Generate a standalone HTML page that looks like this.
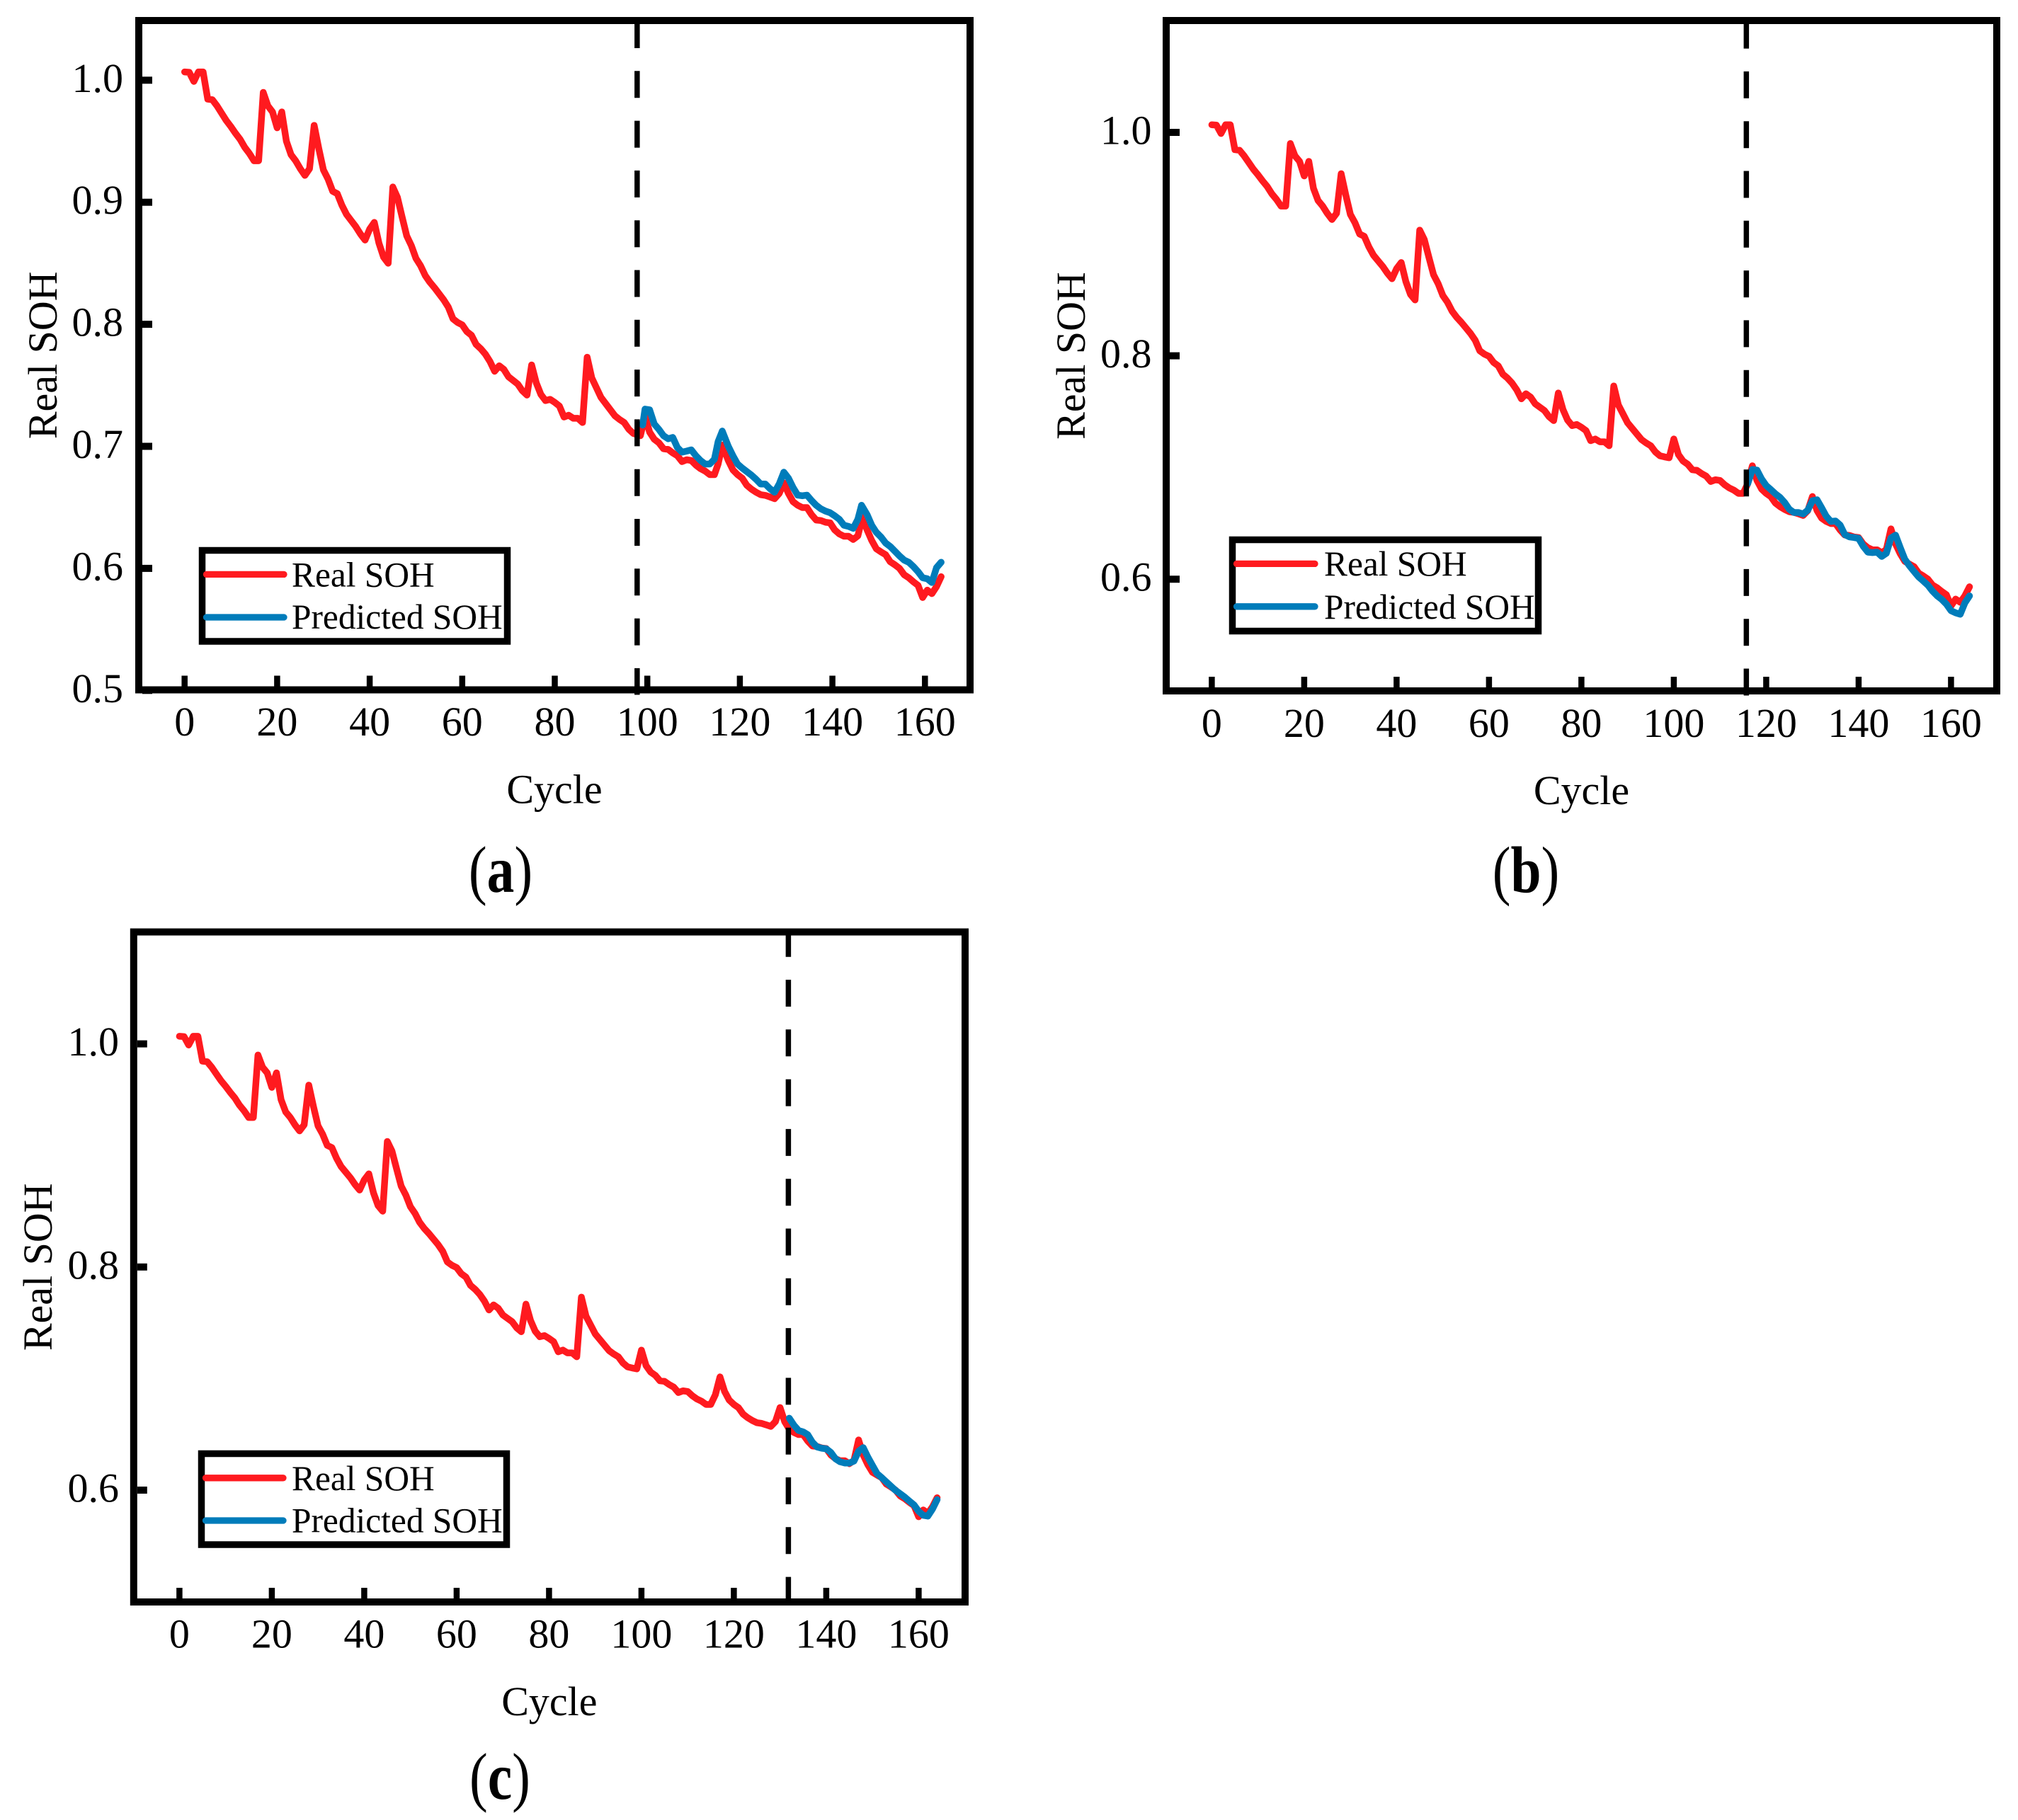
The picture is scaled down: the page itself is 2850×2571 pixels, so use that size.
<!DOCTYPE html>
<html lang="en">
<head>
<meta charset="utf-8">
<title>Real and predicted SOH versus cycle</title>
<style>
html,body{margin:0;padding:0;background:#fff;}
svg{display:block;}
text{font-family:"Liberation Serif",serif;fill:#000;}
</style>
</head>
<body>
<svg id="figure" xmlns="http://www.w3.org/2000/svg" width="2850" height="2571" viewBox="0 0 2850 2571"></svg>
<script>
const xTickValues = [0,20,40,60,80,100,120,140,160];
const yTicksA = [0.5,0.6,0.7,0.8,0.9,1.0];
const yTicksB = [0.6,0.8,1.0];
const yTicksC = [0.6,0.8,1.0];
const splitCycleA = 97.8;
const splitCycleB = 115.7;
const splitCycleC = 131.8;

const realCyclesA = [0,1,2,3,4,5,6,7,8,9,10,11,12,13,14,15,16,17,18,19,20,21,22,23,24,25,26,27,28,29,30,31,32,33,34,35,36,37,38,39,40,41,42,43,44,45,46,47,48,49,50,51,52,53,54,55,56,57,58,59,60,61,62,63,64,65,66,67,68,69,70,71,72,73,74,75,76,77,78,79,80,81,82,83,84,85,86,87,88,89,90,91,92,93,94,95,96,97,98.5,99.5,100.5,101.5,102.5,103.5,104.5,105.5,106.5,107.5,108.5,109.5,110.5,111.5,112.5,113.5,114.5,115.3,116.2,117.5,118.5,119.5,120.5,121.5,122.5,123.5,124.5,125.5,126.5,127.5,128.5,129.5,130.5,131.5,132.5,133.5,134.5,135.5,136.5,137.5,138.5,139.5,140.5,141.5,142.5,143.5,144.5,145.5,146.5,147.5,148.5,149.5,150.5,151.5,152.5,153.5,154.5,155.5,156.5,157.5,158.5,159.5,160.5,161.5,162.5,163.5];
const realA = [1.0068,1.0065,.999,1.0068,1.0068,.9845,.984,.979,.973,.967,.962,.9565,.9515,.945,.94,.934,.934,.99,.979,.974,.961,.974,.95,.939,.934,.9275,.922,.9275,.963,.944,.9265,.919,.909,.907,.8975,.89,.885,.88,.874,.869,.878,.8835,.8665,.855,.85,.9125,.904,.888,.8725,.8645,.854,.848,.84,.8345,.83,.825,.82,.814,.8045,.8015,.7995,.794,.791,.7835,.78,.7755,.7695,.7615,.766,.763,.757,.754,.751,.7455,.742,.7667,.752,.7425,.7375,.7385,.736,.733,.724,.7255,.723,.723,.7195,.773,.756,.748,.74,.735,.73,.725,.722,.7195,.714,.7105,.7087,.7245,.7116,.7058,.7029,.698,.6975,.6946,.6923,.6875,.689,.6884,.6846,.6817,.6797,.6768,.6768,.6855,.701,.6884,.6807,.6768,.6739,.6681,.6649,.6624,.6604,.6598,.6585,.6571,.6614,.6701,.6614,.6546,.6517,.6498,.6498,.644,.6396,.6392,.6378,.6373,.6315,.6282,.6263,.6263,.6237,.6266,.6421,.6315,.6228,.616,.6135,.6112,.6054,.6029,.6,.5948,.5923,.589,.5861,.5761,.5822,.5793,.5851,.5932];
const predCyclesA = [99,99.5,100.5,101.5,102.5,103.5,104.5,105.5,106.5,107.5,108.5,109.5,110.5,111.5,112.5,113.5,114.5,115.3,116.2,117.5,118.5,119.5,120.5,121.5,122.5,123.5,124.5,125.5,126.5,127.5,128.5,129.5,130.5,131.5,132.5,133.5,134.5,135.5,136.5,137.5,138.5,139.5,140.5,141.5,142.5,143.5,144.5,145.5,146.3,147.5,148.5,149.5,150.5,151.5,152.5,153.5,154.5,155.5,156.5,157.5,158.5,159.5,160.5,161.5,162.5,163.5];
const predA = [.7174,.7305,.7299,.7183,.7139,.7087,.7062,.7073,.699,.6952,.6961,.6971,.6923,.6884,.6855,.6855,.6894,.7039,.7125,.7,.6923,.6855,.6822,.6793,.6764,.673,.6691,.6691,.6653,.6624,.6691,.6788,.6739,.6662,.66,.6595,.66,.6556,.6517,.6488,.6469,.6456,.6431,.6402,.6353,.6344,.6328,.6402,.6517,.644,.6353,.6295,.6257,.6208,.6179,.6141,.6102,.6068,.605,.6015,.5973,.5923,.5915,.5884,.6006,.605];

const realB = [1.0068,1.0065,.999,1.0068,1.0068,.9845,.984,.979,.973,.967,.962,.9565,.9515,.945,.94,.934,.934,.99,.979,.974,.961,.974,.95,.939,.934,.9275,.922,.9275,.963,.944,.9265,.919,.909,.907,.8975,.89,.885,.88,.874,.869,.878,.8835,.8665,.855,.85,.9125,.904,.888,.8725,.8645,.854,.848,.84,.8345,.83,.825,.82,.814,.8045,.8015,.7995,.794,.791,.7835,.78,.7755,.7695,.7615,.766,.763,.757,.754,.751,.7455,.742,.7667,.752,.7425,.7375,.7385,.736,.733,.724,.7255,.723,.723,.7195,.773,.756,.748,.74,.735,.73,.725,.722,.7195,.714,.7105,.7095,.7087,.7255,.7116,.7058,.7029,.698,.6975,.6946,.6923,.6875,.689,.6884,.6846,.6817,.6797,.6768,.6768,.6855,.7015,.6884,.6807,.6768,.6739,.6681,.6649,.6624,.6604,.6598,.6585,.6571,.6614,.674,.6614,.6546,.6517,.6498,.6498,.644,.6396,.6392,.6378,.6373,.6315,.6282,.6263,.6263,.6237,.6266,.645,.6315,.6228,.616,.6135,.6112,.6054,.6029,.6,.5948,.5923,.589,.5861,.5761,.5822,.5793,.5851,.5932];
const predStartB = 116;
const predB = [.6855,.6982,.6977,.6897,.6838,.6802,.6764,.6732,.6686,.6626,.6597,.6597,.6584,.6618,.6703,.6711,.6639,.6563,.6517,.6521,.6485,.64,.6379,.6373,.6365,.6295,.6242,.6238,.6242,.6204,.6232,.6369,.6394,.6284,.6179,.612,.6069,.602,.5984,.5946,.5893,.5851,.5819,.5777,.5718,.5699,.5686,.5788,.5851];

const realC = [1.0068,1.0065,.999,1.0068,1.0068,.9845,.984,.979,.973,.967,.962,.9565,.9515,.945,.94,.934,.934,.99,.979,.974,.961,.974,.95,.939,.934,.9275,.922,.9275,.963,.944,.9265,.919,.909,.907,.8975,.89,.885,.88,.874,.869,.878,.8835,.8665,.855,.85,.9125,.904,.888,.8725,.8645,.854,.848,.84,.8345,.83,.825,.82,.814,.8045,.8015,.7995,.794,.791,.7835,.78,.7755,.7695,.7615,.766,.763,.757,.754,.751,.7455,.742,.7667,.752,.7425,.7375,.7385,.736,.733,.724,.7255,.723,.723,.7195,.773,.756,.748,.74,.735,.73,.725,.722,.7195,.714,.7105,.7095,.7087,.7255,.7116,.7058,.7029,.698,.6975,.6946,.6923,.6875,.689,.6884,.6846,.6817,.6797,.6768,.6768,.6855,.7015,.6884,.6807,.6768,.6739,.6681,.6649,.6624,.6604,.6598,.6585,.6571,.6614,.674,.6614,.6546,.6517,.6498,.6498,.644,.6396,.6392,.6378,.6373,.6315,.6282,.6263,.6263,.6237,.6266,.645,.6315,.6228,.616,.6135,.6112,.6054,.6029,.6,.5948,.5923,.589,.5861,.5761,.5822,.5793,.5851,.5932];
const predStartC = 132;
const predC = [.6645,.6582,.6535,.6522,.6497,.6429,.6387,.6376,.637,.6338,.6281,.6254,.6243,.6243,.626,.6349,.6381,.6296,.6222,.6148,.6112,.6074,.6036,.5998,.5968,.5937,.5901,.5867,.581,.5774,.5767,.5831,.5915];

const RED = '#ff1a1f';
const BLUE = '#007cba';
const svg = document.getElementById('figure');
const NS = 'http://www.w3.org/2000/svg';

function make(tag, attrs, parent, text) {
  const el = document.createElementNS(NS, tag);
  for (const k in attrs) el.setAttribute(k, attrs[k]);
  if (text !== undefined) el.textContent = text;
  parent.appendChild(el);
  return el;
}

function linePath(cycles, values, xFn, yFn) {
  return values.map((v, i) => (i ? 'L' : 'M') + xFn(cycles[i]).toFixed(2) + ' ' + yFn(v).toFixed(2)).join(' ');
}

function drawPanel(p) {
  const xFn = c => p.x0 + p.xUnit * c;
  const yFn = v => p.yRef - (v - p.vRef) * p.yUnit;
  const g = make('g', {}, svg);
  
  

  const realLine = make('path', {d: linePath(p.realCycles, p.real, xFn, yFn), fill:'none', stroke:RED, 'stroke-width':9.5, 'stroke-linejoin':'round', 'stroke-linecap':'round'}, g);
  
  

  const predLine = make('path', {d: linePath(p.predCycles, p.pred, xFn, yFn), fill:'none', stroke:BLUE, 'stroke-width':9.5, 'stroke-linejoin':'round', 'stroke-linecap':'round'}, g);
  
  

  const split = make('line', {x1:xFn(p.split), x2:xFn(p.split), y1:p.dashStart, y2:p.bottom+7, stroke:'#000', 'stroke-width':7.5, 'stroke-dasharray':'38 32.3'}, g);
  
  

  const frame = make('rect', {x:p.left, y:p.top, width:p.right-p.left, height:p.bottom-p.top, fill:'none', stroke:'#000', 'stroke-width':10}, g);
  
  

  xTickValues.forEach(t => {
    const tick = make('line', {x1:xFn(t), x2:xFn(t), y1:p.bottom-5, y2:p.bottom-20, stroke:'#000', 'stroke-width':8.5}, g);
    
    
    const label = make('text', {x:xFn(t), y:p.xLabelY, 'font-size':58, 'text-anchor':'middle'}, g, String(t));
    
    
  });
  p.yTicks.forEach(t => {
    const tick = make('line', {x1:p.left+5, x2:p.left+19, y1:yFn(t), y2:yFn(t), stroke:'#000', 'stroke-width':10}, g);
    
    
    const label = make('text', {x:p.yLabelX, y:yFn(t)+16.5, 'font-size':58, 'text-anchor':'end'}, g, t.toFixed(1));
    
    
  });

  const xTitle = make('text', {x:(p.left+p.right)/2, y:p.xTitleY, 'font-size':58, 'text-anchor':'middle'}, g, 'Cycle');
  
  

  const yc = (p.top+p.bottom)/2;
  const yTitle = make('text', {x:p.yTitleX, y:yc, 'font-size':58, 'text-anchor':'middle', transform:'rotate(-90 '+p.yTitleX+' '+yc+')'}, g, 'Real SOH');
  
  

  const lg = make('g', {}, g);
  
  
  const box = make('rect', {x:p.lg.x, y:p.lg.y, width:p.lg.w, height:p.lg.h, fill:'#fff', stroke:'#000', 'stroke-width':9.5}, lg);
  
  
  const lr = make('line', {x1:p.lg.lx1, x2:p.lg.lx2, y1:p.lg.y1, y2:p.lg.y1, stroke:RED, 'stroke-width':9.3, 'stroke-linecap':'round'}, lg);
  
  
  const lb = make('line', {x1:p.lg.lx1, x2:p.lg.lx2, y1:p.lg.y2, y2:p.lg.y2, stroke:BLUE, 'stroke-width':9.3, 'stroke-linecap':'round'}, lg);
  
  
  const tr = make('text', {x:p.lg.tx, y:p.lg.b1, 'font-size':49.4}, lg, 'Real SOH');
  
  
  const tb = make('text', {x:p.lg.tx, y:p.lg.b2, 'font-size':49.4}, lg, 'Predicted SOH');
  
  

  const cap = make('text', {x:0, y:0, 'font-size':86, 'text-anchor':'middle', transform:'translate('+p.capX+' '+p.capY+') scale(0.9 1.08)'}, g);
  
  
  make('tspan', {}, cap, '(');
  make('tspan', {'font-weight':'bold'}, cap, p.id);
  make('tspan', {}, cap, ')');
}

function indexCycles(values, start) {
  return values.map((_, i) => start + i);
}

drawPanel({
  id:'a', left:196, right:1370, top:29, bottom:974.5,
  x0:260.7, xUnit:6.535, yRef:975.3, vRef:0.5, yUnit:1724,
  realCycles:realCyclesA, real:realA, predCycles:predCyclesA, pred:predA,
  split:splitCycleA, dashStart:30, yTicks:yTicksA,
  xLabelY:1039, xTitleY:1134.5, yLabelX:174, yTitleX:80,
  capX:707, capY:1260,
  lg:{x:285.5, y:777.5, w:431, h:128.5, lx1:291.5, lx2:401, y1:811.4, y2:872, tx:412, b1:828.6, b2:888}
});
drawPanel({
  id:'b', left:1647, right:2820, top:29, bottom:976,
  x0:1711.4, xUnit:6.525, yRef:187, vRef:1.0, yUnit:1578,
  realCycles:indexCycles(realB, 0), real:realB, predCycles:indexCycles(predB, predStartB), pred:predB,
  split:splitCycleB, dashStart:30.6, yTicks:yTicksB,
  xLabelY:1041, xTitleY:1136, yLabelX:1626.5, yTitleX:1532,
  capX:2155, capY:1260.5,
  lg:{x:1740.5, y:762.5, w:432, h:129, lx1:1746.5, lx2:1857, y1:796.4, y2:856.8, tx:1870, b1:813, b2:874}
});
drawPanel({
  id:'c', left:188.8, right:1363, top:1316.5, bottom:2263,
  x0:253.4, xUnit:6.525, yRef:2105, vRef:0.6, yUnit:1576,
  realCycles:indexCycles(realC, 0), real:realC, predCycles:indexCycles(predC, predStartC), pred:predC,
  split:splitCycleC, dashStart:1313.7, yTicks:yTicksC,
  xLabelY:2327.5, xTitleY:2423, yLabelX:168, yTitleX:73,
  capX:706, capY:2541,
  lg:{x:284.5, y:2053.5, w:431, h:128.5, lx1:290.5, lx2:400, y1:2087.8, y2:2148, tx:412, b1:2105, b2:2164.7}
});
</script>
</body>
</html>
